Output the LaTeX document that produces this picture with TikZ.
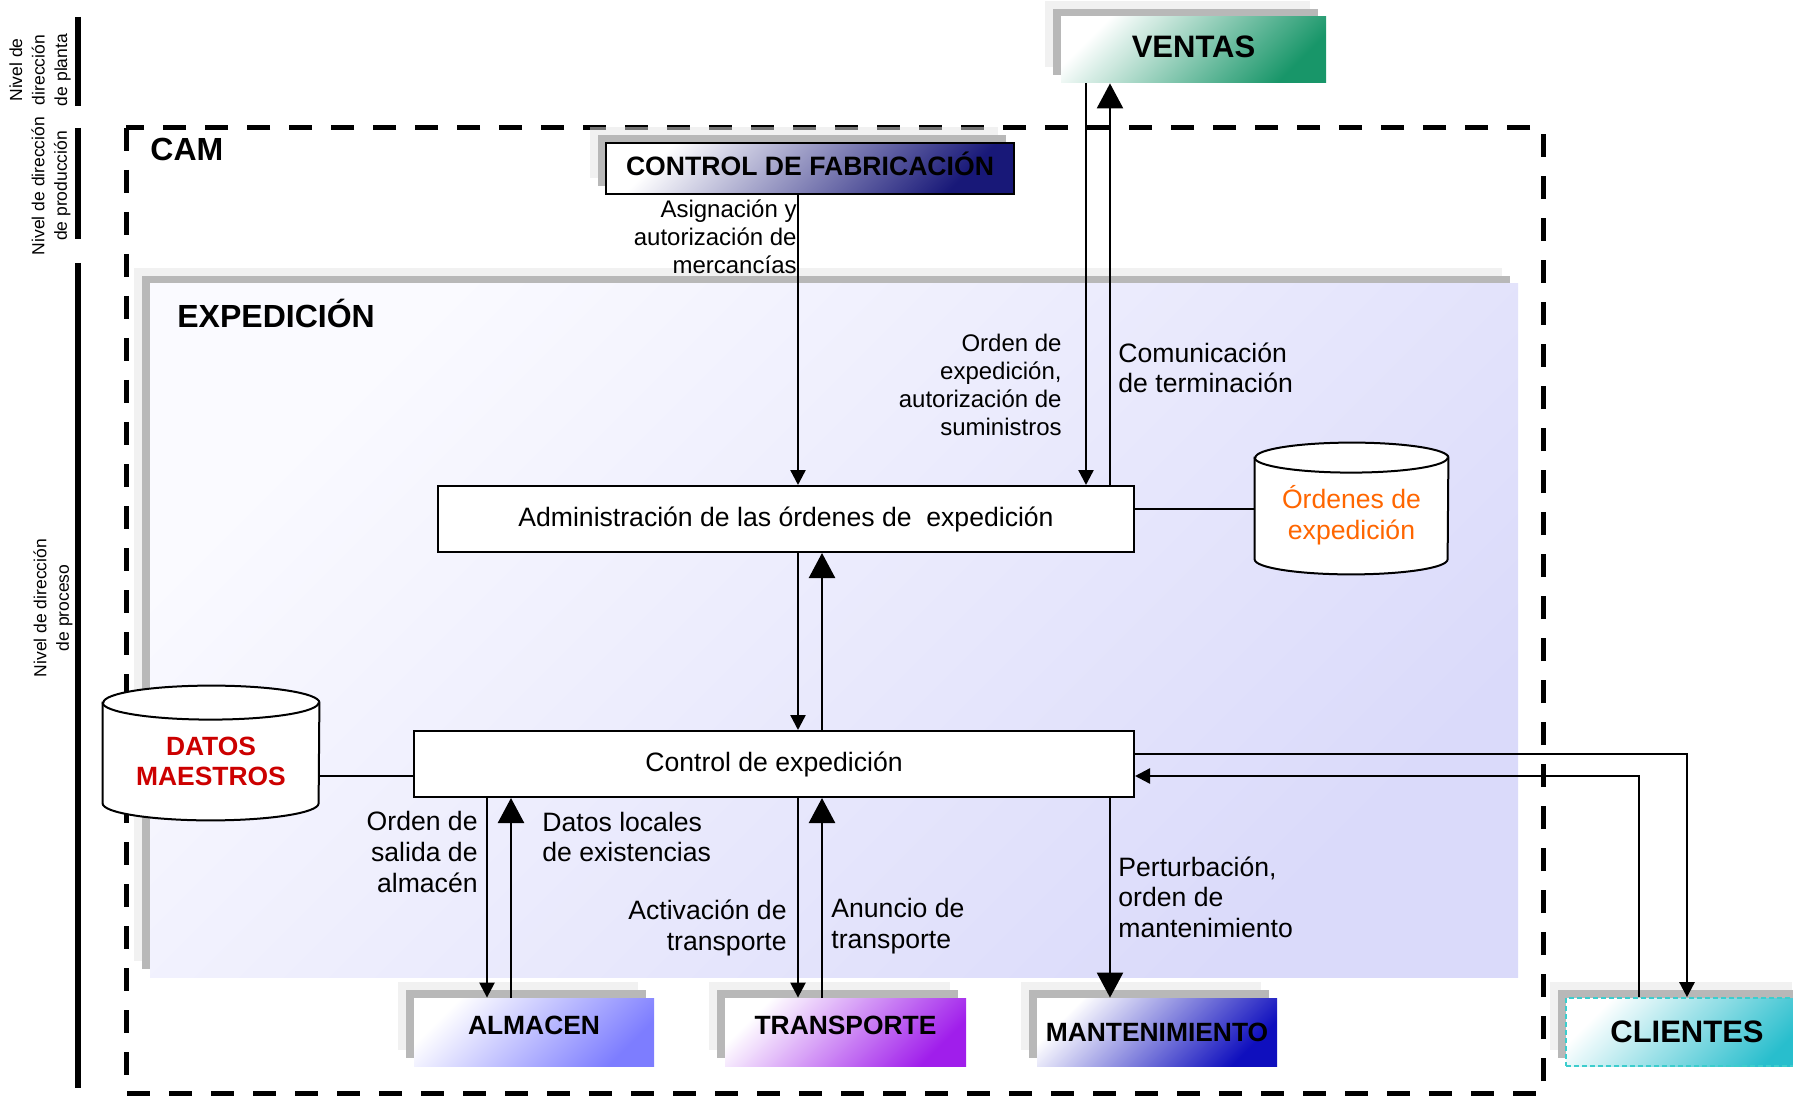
\documentclass[tikz,border=0pt]{standalone}
\usepackage{fontspec}
\setmainfont{Liberation Sans}
\usetikzlibrary{arrows.meta,shadows}

\definecolor{shadowlt}{RGB}{228,228,228}
\definecolor{shadowmd}{RGB}{184,184,184}
\definecolor{expTop}{RGB}{250,250,255}
\definecolor{expBot}{RGB}{218,218,250}
\definecolor{ventasC}{RGB}{24,150,105}
\definecolor{fabC}{RGB}{24,24,120}
\definecolor{almC}{RGB}{125,125,255}
\definecolor{trC}{RGB}{160,30,235}
\definecolor{mantC}{RGB}{15,15,190}
\definecolor{cliC}{RGB}{40,190,205}
\definecolor{cliB}{RGB}{60,205,205}
\definecolor{ordC}{RGB}{255,102,0}
\definecolor{datC}{RGB}{204,0,0}

% data store drawn around an empty node: #1 node, #2 x radius, #3 y radius
\newcommand\cylshape[3]{%
  \draw[line width=1pt, fill=white]
    ([yshift=-#3]#1.north west) -- ([yshift=#3]#1.south west)
    arc[start angle=180, end angle=360, x radius=#2, y radius=#3]
    -- ([yshift=-#3]#1.north east)
    arc[start angle=0, end angle=180, x radius=#2, y radius=#3] -- cycle;
  \draw[line width=1pt] ([yshift=-#3]#1.north west)
    arc[start angle=180, end angle=360, x radius=#2, y radius=#3];
}

\begin{document}
\begin{tikzpicture}[x=0.5pt,y=-0.5pt,
  lbl/.style={font=\fontsize{13.3}{15.3}\selectfont, inner sep=0pt},
  lblsm/.style={font=\fontsize{12}{14}\selectfont, inner sep=0pt},
  ttl/.style={font=\fontsize{16}{19}\selectfont\bfseries, inner sep=0pt},
  side/.style={font=\fontsize{8.75}{11.25}\selectfont, align=center, rotate=90, inner sep=0pt},
  shadowed/.style={
    general shadow={fill=shadowlt, opacity=.5, shadow xshift=-8pt, shadow yshift=8pt},
    general shadow={fill=shadowmd, shadow xshift=-4pt, shadow yshift=4pt}},
  unit/.style={shadowed, font=\fontsize{13.2}{15}\selectfont\bfseries, inner sep=0pt,
    minimum width=120pt, minimum height=34pt,
    top color=white, bottom color=#1, shading angle=45},
  raised/.style={text height=9.5pt, text depth=7pt},
  proc/.style={draw, line width=1pt, fill=white, inner sep=0pt,
    font=\fontsize{13.3}{15}\selectfont, minimum height=33pt},
  store/.style={inner sep=0pt},
  sarrow/.style={line width=1.2pt, -{Triangle[width=7.5pt,length=7.5pt]}},
  barrow/.style={line width=1.2pt, -{Triangle[width=13pt,length=12.5pt]}},
]
\clip (0,0) rectangle (1793,1096);

% CAM frame
\draw[line width=2.5pt, dash pattern=on 11.5pt off 9.5pt] (126,128) rectangle (1543,1093);

% levels on the left
\draw[line width=2.8pt] (78,17) -- (78,106);
\draw[line width=2.8pt] (78,128) -- (78,239);
\draw[line width=2.8pt] (78,263) -- (78,1088);
\node[side] (lvplanta) at (40,70) {Nivel de\\dirección\\de planta};
\node[side] (lvprod) at (51,186) {Nivel de dirección\\de producción};
\node[side] (lvproc) at (53,608) {Nivel de dirección\\de proceso};

% expedition area
\node[shadowed, inner sep=0pt, minimum width=684pt, minimum height=346.5pt,
  top color=expTop, bottom color=expBot, shading angle=45] (exped) at (834,630.5) {};

% outside units
\node[unit=ventasC, font=\fontsize{15.5}{18}\selectfont\bfseries, text height=11pt, text depth=3pt,
  minimum width=132.5pt, minimum height=33pt] (ventas) at (1193.5,50) {VENTAS};
\node[unit=fabC, draw, line width=1pt, font=\fontsize{13.3}{15}\selectfont\bfseries,
  text height=9.5pt, text depth=2pt,
  minimum width=204pt, minimum height=25.5pt] (fab) at (810,168.5) {CONTROL DE FABRICACIÓN};
\node[unit=almC, raised] (almacen) at (534,1032) {ALMACEN};
\node[unit=trC, raised, minimum width=120.5pt] (transporte) at (845.5,1032) {TRANSPORTE};
\node[unit=mantC] (mant) at (1157,1032) {MANTENIMIENTO};
\node[unit=cliC, draw=cliB, dash pattern=on 2.5pt off 1.5pt, line width=0.8pt,
  font=\fontsize{15.5}{18}\selectfont\bfseries, minimum width=121pt] (clientes) at (1687,1032) {CLIENTES};

% lanes for the connectors
\coordinate (laneL) at (798,0);
\coordinate (laneR) at (822,0);
\coordinate (laneVd) at (1086,0);
\coordinate (laneVu) at (1110,0);
\coordinate (laneAd) at (487,0);
\coordinate (laneAu) at (511,0);
\coordinate (laneCu) at (1639,0);
\coordinate (rowCd) at (0,754);
\coordinate (rowCu) at (0,776);

% processes
\node[proc, minimum width=348pt] (admin) at (786,519) {Administración de las órdenes de~ expedición};
\node[proc, minimum width=360pt] (ctrl) at (774,764) {Control de expedición};

% connectors
\draw[sarrow] (fab.south -| laneL) -- (admin.north -| laneL);
\draw[sarrow] (ventas.south -| laneVd) -- (admin.north -| laneVd);
\draw[barrow] (admin.north -| laneVu) -- (ventas.south -| laneVu);
\draw[sarrow] (admin.south -| laneL) -- (ctrl.north -| laneL);
\draw[barrow] (ctrl.north -| laneR) -- (admin.south -| laneR);
\draw[sarrow] (ctrl.south -| laneAd) -- (almacen.north -| laneAd);
\draw[barrow] (almacen.north -| laneAu) -- (ctrl.south -| laneAu);
\draw[sarrow] (ctrl.south -| laneL) -- (transporte.north -| laneL);
\draw[barrow] (transporte.north -| laneR) -- (ctrl.south -| laneR);
\draw[barrow] (ctrl.south -| laneVu) -- (mant.north -| laneVu);
\draw[sarrow] (ctrl.east |- rowCd) -| (clientes.north);
\draw[sarrow] (clientes.north -| laneCu) |- (ctrl.east |- rowCu);

% data stores
\node[store, minimum width=96.5pt, minimum height=65.5pt] (ordenes) at (1351.5,508.5) {};
\node[store, minimum width=108pt, minimum height=67pt] (datos) at (211,753) {};
\draw[line width=1pt] (admin.east |- ordenes.west) -- (ordenes.west);
\draw[line width=1pt] (datos.east |- rowCu) -- (ctrl.west |- rowCu);
\cylshape{ordenes}{48.25pt}{7.5pt}
\cylshape{datos}{54pt}{8.5pt}
\node[lbl, align=center, text=ordC] (ordtxt) at ([yshift=-3.5pt]ordenes.center) {Órdenes de\\expedición};
\node[lbl, align=center, text=datC, font=\fontsize{13.2}{15}\selectfont\bfseries] (dattxt)
  at ([yshift=-4pt]datos.center) {DATOS\\MAESTROS};

% titles
\node[ttl, anchor=west] (cam) at (150,149) {CAM};
\node[ttl, anchor=west] (exptit) at (177,313) {EXPEDICIÓN};

% flow labels
\node[lblsm, anchor=east, align=right] (asig) at (797,237) {Asignación y\\autorización de\\mercancías};
\node[lblsm, anchor=east, align=right] (ordexp) at (1062,385) {Orden de\\expedición,\\autorización de\\suministros};
\node[lbl, anchor=west, align=left] (comun) at (1118,368) {Comunicación\\de terminación};
\node[lbl, anchor=east, align=right] (salida) at (478,852) {Orden de\\salida de\\almacén};
\node[lbl, anchor=west, align=left] (exist) at (542,837) {Datos locales\\de existencias};
\node[lbl, anchor=east, align=right] (activ) at (787,928) {Activación de\\transporte};
\node[lbl, anchor=west, align=left] (anunc) at (831,926) {Anuncio de\\transporte};
\node[lbl, anchor=west, align=left] (pert) at (1118,897) {Perturbación,\\orden de\\mantenimiento};
\end{tikzpicture}
\end{document}
